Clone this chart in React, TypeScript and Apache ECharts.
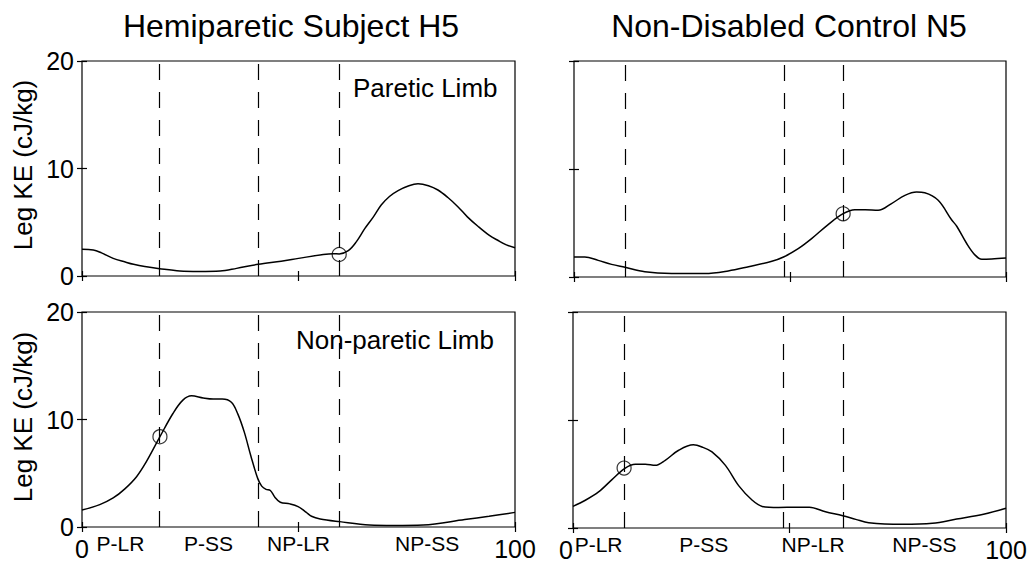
import React, { useEffect, useRef } from "react";
import * as echarts from "echarts";

const FONT = "'Liberation Sans', Arial, Helvetica, sans-serif";

// Panel titles / annotations
const columnTitles = ["Hemiparetic Subject H5", "Non-Disabled Control N5"];
const limbLabels = ["Paretic Limb", "Non-paretic Limb"];
const yAxisName = "Leg KE (cJ/kg)";
const phaseNames = ["P-LR", "P-SS", "NP-LR", "NP-SS"];
const xTickLabels = [0, 100];

// Gait phase boundaries (% gait cycle)
const hemiBoundaries = [17.8, 40.6, 59.4];
const ctrlBoundaries = [11.8, 48.6, 62.3];

// Hemiparetic, paretic limb (top-left)
const hemiParX = [0, 2.6, 4.5, 7.2, 10, 11.9, 14.5, 17.9, 22.6, 27, 31.9, 35.7, 40.7, 46, 50, 55.7, 58, 59.4, 61.5, 63.3, 65.3, 67.3, 69.1, 71, 73, 75.5, 77.6, 80, 82.2, 84.5, 86.8, 89, 91.5, 94, 96.1, 98, 100];
const hemiParY = [2.48, 2.42, 2.15, 1.64, 1.3, 1.09, 0.88, 0.68, 0.46, 0.42, 0.46, 0.71, 1.09, 1.38, 1.64, 2.0, 2.08, 2.05, 2.35, 3.15, 4.4, 5.5, 6.6, 7.4, 7.95, 8.4, 8.58, 8.4, 8.0, 7.3, 6.45, 5.5, 4.6, 3.8, 3.3, 2.9, 2.63];

// Hemiparetic, non-paretic limb (bottom-left)
const hemiNonX = [0, 4.1, 7.2, 9.9, 12.6, 14.9, 18, 21, 23.3, 25.3, 28, 30.3, 32.4, 34.5, 36, 37.5, 39, 40.6, 41.5, 42.5, 43.5, 44.5, 45.8, 48, 49.9, 51.8, 53, 55, 59.5, 66.4, 72, 78.8, 88.4, 94, 100];
const hemiNonY = [1.58, 2.08, 2.7, 3.55, 4.68, 6.1, 8.4, 10.56, 11.8, 12.2, 12.0, 11.9, 11.9, 11.6, 10.5, 8.8, 6.6, 4.5, 3.8, 3.5, 3.4, 2.8, 2.3, 2.15, 1.9, 1.36, 1.0, 0.75, 0.5, 0.19, 0.15, 0.19, 0.7, 1.0, 1.36];

// Control, limb 1 (top-right)
const ctrlTopX = [0, 2.5, 5.6, 8.7, 11.8, 16.4, 22.6, 30.3, 35.7, 40.4, 45.8, 48.5, 51.9, 55.0, 58.9, 62.3, 65.0, 67.4, 70.4, 73.5, 76.6, 79.3, 81.2, 84.3, 87.4, 88.6, 90.9, 92.8, 94.4, 96.7, 100];
const ctrlTopY = [1.85, 1.85, 1.54, 1.17, 0.9, 0.49, 0.33, 0.32, 0.56, 0.95, 1.45, 1.85, 2.62, 3.55, 4.88, 5.86, 6.23, 6.23, 6.17, 6.8, 7.56, 7.87, 7.8, 7.1, 5.3, 4.7, 3.1, 2.05, 1.64, 1.67, 1.76];

// Control, limb 2 (bottom-right)
const ctrlBotX = [0, 2.85, 5.9, 9.0, 11.9, 14.4, 16.7, 19.0, 21.3, 24.4, 27.8, 29.8, 32.1, 35.2, 38.3, 41.4, 43.7, 47.5, 51.4, 54.6, 58.3, 62.3, 65.3, 68.3, 76, 83, 88.6, 94.8, 100];
const ctrlBotY = [2.0, 2.57, 3.34, 4.48, 5.5, 5.9, 5.9, 5.8, 6.27, 7.2, 7.7, 7.5, 7.05, 5.8, 3.9, 2.57, 2.0, 1.9, 1.92, 1.92, 1.5, 1.14, 0.8, 0.49, 0.34, 0.43, 0.83, 1.27, 1.82];

// Event markers (circles)
const markerPoints = [
  [59.4, 2.0],
  [62.3, 5.85],
  [18.0, 8.4],
  [11.8, 5.55],
];

const panels = [
  { x: hemiParX, y: hemiParY, bounds: hemiBoundaries, grid: { left: 82, top: 61, width: 433, height: 215 }, yLabels: true, xLabels: false, minAlign: "center" },
  { x: ctrlTopX, y: ctrlTopY, bounds: ctrlBoundaries, grid: { left: 574, top: 61, width: 432, height: 216 }, yLabels: false, xLabels: false, minAlign: "center" },
  { x: hemiNonX, y: hemiNonY, bounds: hemiBoundaries, grid: { left: 82, top: 312, width: 433, height: 215 }, yLabels: true, xLabels: true, minAlign: "center" },
  { x: ctrlBotX, y: ctrlBotY, bounds: ctrlBoundaries, grid: { left: 573, top: 312, width: 433, height: 216 }, yLabels: false, xLabels: true, minAlign: "right" },
];

const INK = "#000";

export default function App() {
  const ref = useRef<HTMLDivElement>(null);

  useEffect(() => {
    if (!ref.current) return;
    const chart = echarts.init(ref.current, undefined, { renderer: "svg" });

    const tick = { show: true, inside: true, length: 5, lineStyle: { color: INK, width: 1.2 } };
    const grids: any[] = [];
    const xAxes: any[] = [];
    const yAxes: any[] = [];
    const series: any[] = [];

    panels.forEach((p, i) => {
      grids.push({ ...p.grid, show: true, borderColor: INK, borderWidth: 1.2, backgroundColor: "transparent", containLabel: false });

      const bottomIdx = xAxes.length;
      xAxes.push({
        type: "value", gridIndex: i, position: "bottom", min: 0, max: 100, interval: 50,
        axisLine: { show: false }, axisTick: tick, splitLine: { show: false },
        axisLabel: {
          show: p.xLabels, showMinLabel: true, showMaxLabel: true, margin: 9,
          alignMinLabel: p.minAlign,
          fontFamily: FONT, fontSize: 25, color: INK,
          formatter: (v: number) => (xTickLabels.includes(v) ? String(v) : ""),
        },
      });
      xAxes.push({
        type: "value", gridIndex: i, position: "top", min: 0, max: 100, interval: 50,
        axisLine: { show: false }, axisTick: tick, splitLine: { show: false }, axisLabel: { show: false },
      });
      if (p.xLabels) {
        const edges = [0, ...p.bounds, 100];
        const mids = phaseNames.map((_, k) => (edges[k] + edges[k + 1]) / 2);
        xAxes.push({
          type: "value", gridIndex: i, position: "bottom", min: 0, max: 100,
          axisLine: { show: false }, axisTick: { show: false }, splitLine: { show: false },
          axisLabel: {
            show: true, customValues: mids, margin: 6, fontFamily: FONT, fontSize: 21, color: INK,
            hideOverlap: false,
            formatter: (v: number) => {
              let best = 0;
              mids.forEach((m, k) => { if (Math.abs(m - v) < Math.abs(mids[best] - v)) best = k; });
              return phaseNames[best];
            },
          },
        });
      }

      const leftIdx = yAxes.length;
      yAxes.push({
        type: "value", gridIndex: i, position: "left", min: 0, max: 20, interval: 10,
        axisLine: { show: false }, axisTick: tick, splitLine: { show: false },
        axisLabel: { show: p.yLabels, margin: 8, fontFamily: FONT, fontSize: 25, color: INK },
      });
      yAxes.push({
        type: "value", gridIndex: i, position: "right", min: 0, max: 20, interval: 10,
        axisLine: { show: false }, axisTick: tick, splitLine: { show: false }, axisLabel: { show: false },
      });

      series.push({
        type: "line", xAxisIndex: bottomIdx, yAxisIndex: leftIdx,
        data: p.x.map((x, k) => [x, p.y[k]]),
        showSymbol: false, smooth: 0.35,
        lineStyle: { color: INK, width: 1.5 },
        silent: true,
        markLine: {
          silent: true, symbol: ["none", "none"], label: { show: false },
          lineStyle: { color: INK, width: 1.2, type: [16, 12] },
          data: p.bounds.map((b) => ({ xAxis: b })),
        },
      });
      series.push({
        type: "scatter", xAxisIndex: bottomIdx, yAxisIndex: leftIdx,
        data: [markerPoints[i]], symbol: "circle", symbolSize: 14,
        itemStyle: { color: "rgba(0,0,0,0)", borderColor: INK, borderWidth: 1.2 },
        silent: true, z: 5,
      });
    });

    const graphic: any[] = [
      { type: "text", x: 291, y: 26, style: { text: columnTitles[0], font: `32px ${FONT}`, fill: INK, align: "center", verticalAlign: "middle" } },
      { type: "text", x: 789, y: 26, style: { text: columnTitles[1], font: `32px ${FONT}`, fill: INK, align: "center", verticalAlign: "middle" } },
      { type: "text", x: 23, y: 165, rotation: Math.PI / 2, style: { text: yAxisName, font: `26px ${FONT}`, fill: INK, align: "center", verticalAlign: "middle" } },
      { type: "text", x: 23, y: 417, rotation: Math.PI / 2, style: { text: yAxisName, font: `26px ${FONT}`, fill: INK, align: "center", verticalAlign: "middle" } },
      { type: "text", x: 353, y: 88, style: { text: limbLabels[0], font: `26px ${FONT}`, fill: INK, align: "left", verticalAlign: "middle" } },
      { type: "text", x: 296, y: 340, style: { text: limbLabels[1], font: `26px ${FONT}`, fill: INK, align: "left", verticalAlign: "middle" } },
    ];

    chart.setOption({
      animation: false,
      backgroundColor: "#fff",
      grid: grids,
      xAxis: xAxes,
      yAxis: yAxes,
      series,
      graphic,
    });

    return () => chart.dispose();
  }, []);

  return <div ref={ref} style={{ position: "fixed", left: 0, top: 0, width: 1032, height: 564, background: "#fff" }} />;
}
